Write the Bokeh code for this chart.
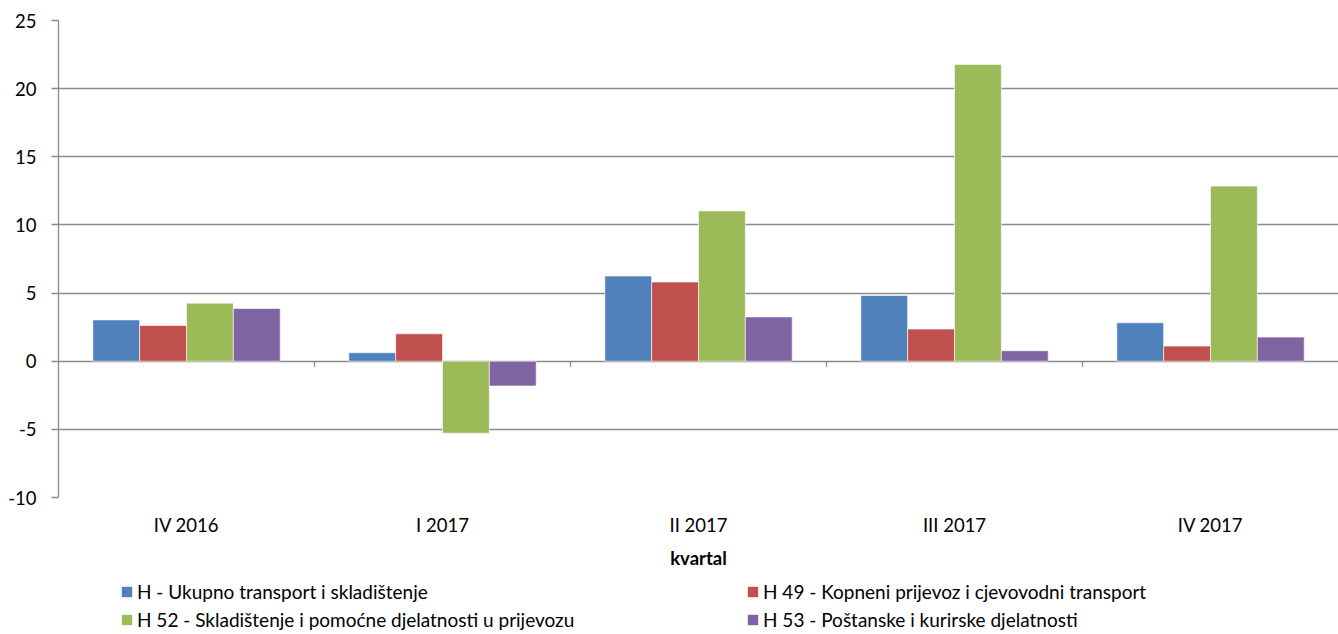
from bokeh.plotting import figure
from bokeh.layouts import column
from bokeh.models import (FactorRange, Range1d, FixedTicker, Legend, LegendItem,
                          ColumnDataSource)
from bokeh.transform import dodge
from bokeh.embed import file_html
from bokeh.resources import INLINE

quarters = ["IV 2016", "I 2017", "II 2017", "III 2017", "IV 2017"]
series_names = [
    "H - Ukupno transport i skladištenje",
    "H 49 - Kopneni prijevoz i cjevovodni transport",
    "H 52 - Skladištenje i pomoćne djelatnosti u prijevozu",
    "H 53 - Poštanske i kurirske djelatnosti",
]
h_total = [3.03, 0.62, 6.25, 4.82, 2.82]
h49 = [2.62, 2.01, 5.81, 2.36, 1.11]
h52 = [4.26, -5.28, 11.03, 21.78, 12.85]
h53 = [3.87, -1.82, 3.25, 0.77, 1.77]
y_ticks = [-10, -5, 0, 5, 10, 15, 20, 25]
x_title = "kvartal"

colors = ["#4F81BD", "#C0504D", "#9BBB59", "#8064A2"]
FONT = "Lato"
FS = "18.5px"
GRID = "#8a8a8a"

source = ColumnDataSource(dict(q=quarters, s0=h_total, s1=h49, s2=h52, s3=h53))

p = figure(width=1338, height=578, x_range=FactorRange(*quarters, range_padding=0),
           y_range=Range1d(-10, 25), output_backend="svg", toolbar_location=None,
           min_border_left=58, min_border_right=0, min_border_top=20,
           min_border_bottom=81)
p.outline_line_color = None
p.background_fill_color = "white"
p.border_fill_color = "white"

bw = 0.183
renderers = []
for i, col in enumerate(["s0", "s1", "s2", "s3"]):
    off = (i - 1.5) * bw
    r = p.vbar(x=dodge("q", off, range=p.x_range), top=col, bottom=0, width=bw,
               source=source, fill_color=colors[i], line_color="white",
               line_alpha=0.6, line_width=1)
    renderers.append(r)

# grid
p.xgrid.grid_line_color = None
p.ygrid.ticker = FixedTicker(ticks=y_ticks)
p.ygrid.grid_line_color = GRID
p.ygrid.grid_line_width = 1.3
p.ygrid.level = "image"

# boundary tick marks on the zero line
p.segment(x0=[1, 2, 3, 4], x1=[1, 2, 3, 4], y0=[0] * 4, y1=[-0.4] * 4,
          line_color=GRID, line_width=1.3)

# y axis
ya = p.yaxis[0]
ya.ticker = FixedTicker(ticks=y_ticks)
ya.major_label_overrides = {t: str(t) for t in y_ticks}
ya.axis_line_color = GRID
ya.axis_line_width = 1.3
ya.major_tick_line_color = GRID
ya.major_tick_line_width = 1.3
ya.major_tick_out = 7
ya.major_tick_in = 0
ya.minor_tick_line_color = None
ya.major_label_standoff = 15
ya.major_label_text_font = FONT
ya.major_label_text_font_size = FS
ya.major_label_text_color = "#000000"

# x axis
xa = p.xaxis[0]
xa.axis_line_color = None
xa.major_tick_line_color = None
xa.major_tick_out = 0
xa.major_tick_in = 0
xa.minor_tick_line_color = None
xa.major_label_standoff = 16
xa.major_label_text_font = FONT
xa.major_label_text_font_size = FS
xa.major_label_text_color = "#000000"
xa.axis_label = x_title
xa.axis_label_text_font = FONT
xa.axis_label_text_font_size = FS
xa.axis_label_text_font_style = "bold"
xa.axis_label_text_color = "#000000"
xa.axis_label_standoff = 8

# legend strip (separate figure; its swatches sit outside the visible range)
lg = figure(width=1338, height=56, x_range=Range1d(0, 1), y_range=Range1d(0, 1),
            output_backend="svg", toolbar_location=None, x_axis_location=None,
            y_axis_location=None, min_border=0)
lg.outline_line_color = None
lg.xgrid.visible = False
lg.ygrid.visible = False
swatches = [lg.vbar(x=[5], top=[5], bottom=[4], width=0.1, fill_color=c, line_color=None)
            for c in colors]

order = [0, 2, 1, 3]
items = [LegendItem(label=series_names[k], renderers=[swatches[k]]) for k in order]
legend = Legend(items=items, ncols=2, location=(62, 3), margin=0, padding=0,
                glyph_width=13, glyph_height=13, label_height=22,
                label_standoff=4, label_width=604, spacing=5,
                label_text_font=FONT, label_text_font_size="19px",
                label_text_color="#000000", border_line_color=None,
                background_fill_alpha=0)
lg.add_layout(legend, "center")

layout = column(p, lg, spacing=0)
open("out.html", "w").write(file_html(layout, INLINE))
